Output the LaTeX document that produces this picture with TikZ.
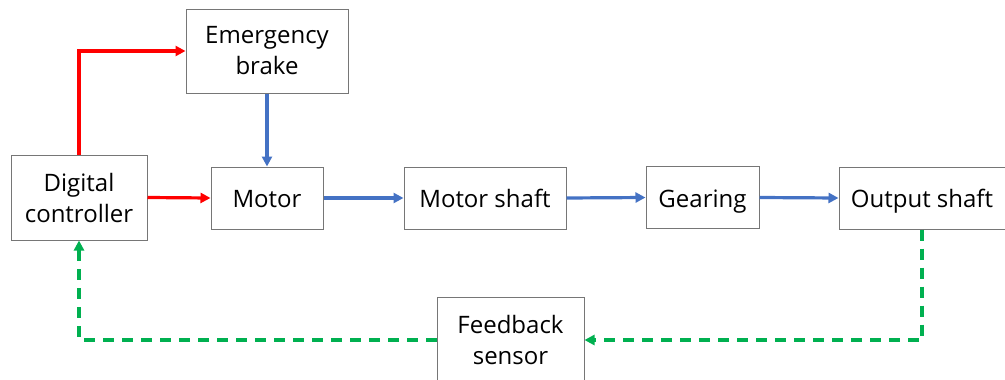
\documentclass[tikz,border=0pt]{standalone}
\usepackage{fontspec}
\setmainfont{Open Sans}
\usetikzlibrary{arrows.meta}
\definecolor{boxgray}{HTML}{767676}
\definecolor{redline}{HTML}{FF0000}
\definecolor{blueline}{HTML}{4472C4}
\definecolor{greenline}{HTML}{00B050}
\tikzset{
  blk/.style={draw=boxgray, line width=1pt, fill=white, align=center, inner sep=0pt,
    font=\fontsize{24}{31}\selectfont},
  one/.style={text height=19pt, text depth=0pt},
  tip/.style={-{Triangle[length=10pt,width=10pt]}},
  redarrow/.style={tip, draw=redline, line width=3.2pt},
  bluearrow/.style={tip, draw=blueline, line width=3.2pt},
  greenarrow/.style={tip, draw=greenline, line width=3.2pt, dash pattern=on 11pt off 8pt},
}
\begin{document}
\begin{tikzpicture}[x=1pt,y=-1pt]
\useasboundingbox (0,0) rectangle (1005,380);
\node[blk, minimum width=136pt, minimum height=85pt] (ctrl) at (79,197.5) {Digital\\controller};
\node[blk, minimum width=162pt, minimum height=84pt] (brake) at (267,51) {Emergency\\brake};
\node[blk, one, minimum width=112pt, minimum height=62pt] (motor) at (267,198) {Motor};
\node[blk, one, minimum width=162pt, minimum height=62pt] (mshaft) at (485,198) {Motor shaft};
\node[blk, one, minimum width=113pt, minimum height=62pt] (gear) at (702.5,197.5) {Gearing};
\node[blk, one, minimum width=166pt, minimum height=62pt] (out) at (922,198) {Output shaft};
\node[blk, minimum width=147pt, minimum height=86pt] (fb) at (510.5,340) {Feedback\\sensor};
\draw[redarrow] (ctrl.north) |- (brake.west);
\draw[redarrow] (ctrl.east) -- (motor.west);
\draw[bluearrow] (brake.south) -- (motor.north);
\draw[bluearrow] (motor.east) -- (mshaft.west);
\draw[bluearrow] (mshaft.east) -- (gear.west);
\draw[bluearrow] (gear.east) -- (out.west);
\draw[greenarrow] (out.south) |- (fb.east);
\draw[greenarrow] (fb.west) -| (ctrl.south);
\end{tikzpicture}
\end{document}
